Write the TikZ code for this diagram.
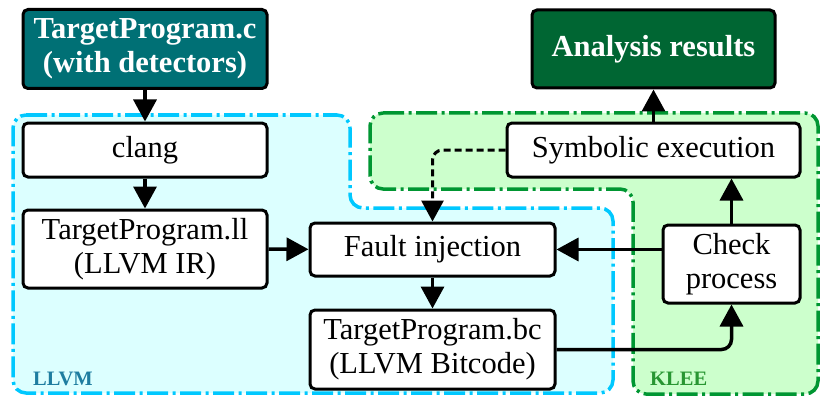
\documentclass[tikz,border=0pt]{standalone}
\usepackage{fontspec}
\setmainfont{Liberation Serif}
\usetikzlibrary{arrows.meta}
\definecolor{tealbox}{RGB}{0,112,117}
\definecolor{greenbox}{RGB}{0,102,51}
\definecolor{llvmfill}{RGB}{220,255,255}
\definecolor{llvmline}{RGB}{0,200,255}
\definecolor{kleefill}{RGB}{204,255,204}
\definecolor{kleeline}{RGB}{0,150,50}
\definecolor{llvmtext}{RGB}{30,125,160}
\definecolor{kleetext}{RGB}{40,150,50}
\tikzset{
  box/.style={draw=black, line width=3pt, rounded corners=5pt, fill=white, inner sep=0pt, align=center,
    font=\fontsize{30.5}{34}\selectfont},
  darkbox/.style={box, text=white, font=\fontsize{30.5}{34}\selectfont\bfseries},
  arr/.style={line width=3.5pt, -{Triangle[length=22pt,width=23pt]}},
  dasharr/.style={line width=3pt, dash pattern=on 7pt off 4pt, -{Triangle[length=21pt,width=22pt]}},
  region/.style={line width=3.5pt, dash pattern=on 21pt off 4.5pt on 3pt off 4.5pt, rounded corners=13pt},
  reglabel/.style={font=\fontsize{20.5}{24}\selectfont\bfseries, anchor=base west, inner sep=0pt}
}
\begin{document}
\begin{tikzpicture}[x=1pt,y=-1pt]
\useasboundingbox (0,0) rectangle (820,396);
% regions
\draw[region, draw=llvmline, fill=llvmfill] (13,115) -- (350,115) -- (350,208) -- (613,208) -- (613,393) -- (13,393) -- cycle;
\draw[region, draw=kleeline, fill=kleefill] (370,113) -- (818,113) -- (818,394) -- (633,394) -- (633,189) -- (370,189) -- cycle;
\node[reglabel, text=llvmtext] (llvmlab) at (33,385) {LLVM};
\node[reglabel, text=kleetext] (kleelab) at (650,385) {KLEE};
% nodes
\node[darkbox, fill=tealbox, minimum width=244pt, minimum height=79pt] (tpc) at (145,49) {TargetProgram.c\\(with detectors)};
\node[box, minimum width=244pt, minimum height=54pt] (clang) at (145,150) {clang};
\node[box, minimum width=244pt, minimum height=78pt] (tpll) at (145,249) {TargetProgram.ll\\(LLVM IR)};
\node[box, minimum width=245pt, minimum height=53pt] (fi) at (432.5,249.5) {Fault injection};
\node[box, minimum width=245pt, minimum height=79pt] (tpbc) at (432.5,349.5) {TargetProgram.bc\\(LLVM Bitcode)};
\node[darkbox, fill=greenbox, minimum width=243pt, minimum height=78pt] (ar) at (653.5,49) {Analysis results};
\node[box, minimum width=293pt, minimum height=54pt] (se) at (653.5,150) {Symbolic execution};
\node[box, minimum width=137pt, minimum height=78pt] (cp) at (731.5,264) {Check\\process};
% connectors
\draw[arr] (tpc) -- (clang);
\draw[arr] (clang) -- (tpll);
\draw[arr] (tpll) -- (fi);
\draw[arr] (fi) -- (tpbc);
\draw[arr] (fi.east -| cp.west) -- (fi.east);
\draw[arr, rounded corners=10pt] (tpbc.east) -| (cp.south);
\draw[arr] (cp.north) -- (cp.north |- se.south);
\draw[arr] (se) -- (ar);
\draw[dasharr, rounded corners=10pt] (se.west) -| (fi.north);
\end{tikzpicture}
\end{document}
